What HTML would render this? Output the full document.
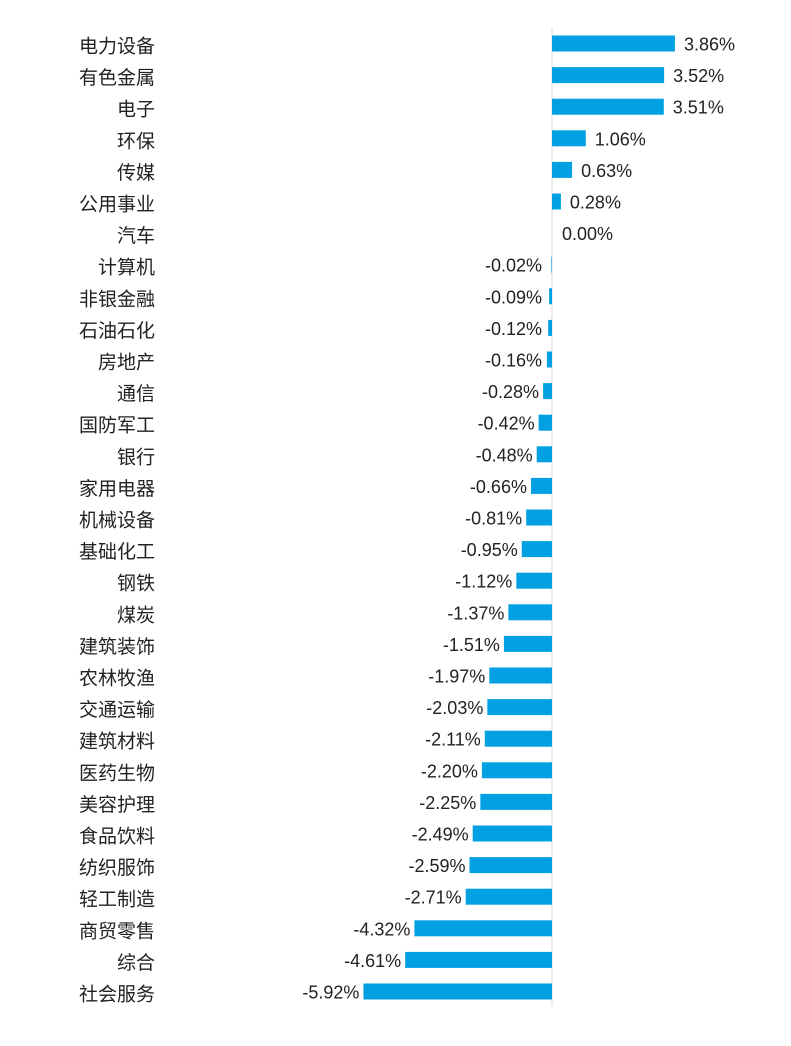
<!DOCTYPE html>
<html><head><meta charset="utf-8"><style>
body{margin:0;background:#fff;width:791px;height:1041px;overflow:hidden}
svg text{font-family:"Liberation Sans","Noto Sans CJK SC",sans-serif;fill:#222}
</style></head><body>
<svg id="chart" width="791" height="1041" xmlns="http://www.w3.org/2000/svg"></svg>
<script>
const categories=["电力设备","有色金属","电子","环保","传媒","公用事业","汽车","计算机","非银金融","石油石化","房地产","通信","国防军工","银行","家用电器","机械设备","基础化工","钢铁","煤炭","建筑装饰","农林牧渔","交通运输","建筑材料","医药生物","美容护理","食品饮料","纺织服饰","轻工制造","商贸零售","综合","社会服务"];
const values=[3.86,3.52,3.51,1.06,0.63,0.28,0.00,-0.02,-0.09,-0.12,-0.16,-0.28,-0.42,-0.48,-0.66,-0.81,-0.95,-1.12,-1.37,-1.51,-1.97,-2.03,-2.11,-2.20,-2.25,-2.49,-2.59,-2.71,-4.32,-4.61,-5.92];
const NS="http://www.w3.org/2000/svg";
const svgEl=document.getElementById('chart');
const x0=552, k=31.85, rowTop=43.5, step=31.6, bh=16;
function xs(v){return x0+v*k;}
function ys(i){return rowTop+i*step;}
const axis=document.createElementNS(NS,'line');


axis.setAttribute('x1',x0);axis.setAttribute('x2',x0);axis.setAttribute('y1',28);axis.setAttribute('y2',1006);
axis.setAttribute('stroke','#d9d9d9');axis.setAttribute('stroke-width','1');
svgEl.appendChild(axis);
categories.forEach((c,i)=>{
  const v=values[i], y=ys(i);
  const t=document.createElementNS(NS,'text');
  
  
  t.setAttribute('x',155);t.setAttribute('y',y+9);t.setAttribute('text-anchor','end');t.setAttribute('font-size','19');
  t.textContent=c;svgEl.appendChild(t);
  const r=document.createElementNS(NS,'rect');
  
  
  const xa=Math.min(xs(v),x0), w=Math.abs(xs(v)-x0);
  r.setAttribute('x',xa);r.setAttribute('y',y-bh/2);r.setAttribute('width',w);r.setAttribute('height',bh);r.setAttribute('fill','#00A0E2');
  svgEl.appendChild(r);
  const l=document.createElementNS(NS,'text');
  
  
  l.setAttribute('font-size','18');l.setAttribute('y',y+7);
  const s=v.toFixed(2)+'%';
  if(v>0){l.setAttribute('x',xs(v)+9);}
  else if(v===0){l.setAttribute('x',x0+10);}
  else{l.setAttribute('x',Math.min(xs(v)-4,542));l.setAttribute('text-anchor','end');}
  l.textContent=s;svgEl.appendChild(l);
});
</script>
</body></html>
